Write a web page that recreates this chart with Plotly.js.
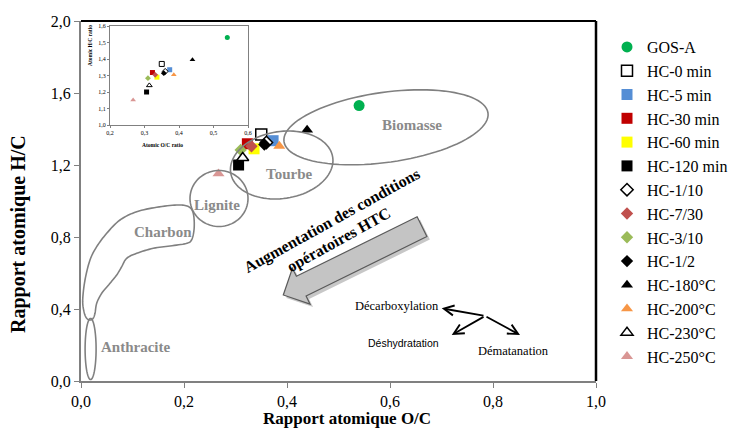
<!DOCTYPE html>
<html>
<head>
<meta charset="utf-8">
<script src="https://cdn.plot.ly/plotly-3.0.1.min.js"></script>
<style>html,body{margin:0;padding:0;background:#fff;}#chart{width:729px;height:437px;}</style>
</head>
<body>
<div id="chart"></div>
<script>
// ---- data ----
const seriesNames = ['GOS-A','HC-0 min','HC-5 min','HC-30 min','HC-60 min','HC-120 min','HC-1/10','HC-7/30','HC-3/10','HC-1/2','HC-180°C','HC-200°C','HC-230°C','HC-250°C'];
const ratioOC = [0.540, 0.350, 0.373, 0.323, 0.336, 0.306, 0.360, 0.331, 0.310, 0.356, 0.439, 0.385, 0.314, 0.267];
const ratioHC = [1.530, 1.370, 1.335, 1.318, 1.290, 1.200, 1.325, 1.304, 1.284, 1.314, 1.395, 1.305, 1.240, 1.152];
const xTickVals = [0, 0.2, 0.4, 0.6, 0.8, 1.0];
const yTickVals = [0, 0.4, 0.8, 1.2, 1.6, 2.0];
const insetXTicks = [0.2, 0.3, 0.4, 0.5, 0.6];
const insetYTicks = [1.0, 1.1, 1.2, 1.3, 1.4, 1.5, 1.6];
const regionLabels = ['Biomasse','Tourbe','Lignite','Charbon','Anthracite'];

// ---- styles ----
const markerSymbols = ['circle','square','square','square','square','square','diamond','diamond','diamond','diamond','triangle-up','triangle-up','triangle-up','triangle-up'];
const markerColors = ['#00B050','#FFFFFF','#558ED5','#C00000','#FFFF00','#000000','#FFFFFF','#C0504D','#9BBB59','#000000','#000000','#F79646','#FFFFFF','#D99694'];
const openMarker = [false,true,false,false,false,false,true,false,false,false,false,false,true,false];
const mainSizes = {circle:11, square:11, diamond:9.5, 'triangle-up':10.5};
const insetSizes = {circle:5, square:5, diamond:4.5, 'triangle-up':5};

// pixel -> data helpers for decorative drawings (plot area 81..596 x 21..381)
function X(px){return (px-81)/515;}
function Y(py){return (381-py)/360*2;}
function PY(py){return (381-py)/360;}
function polyPath(pts){
  return pts.map((p,i)=>(i?'L':'M')+X(p[0]).toFixed(5)+','+Y(p[1]).toFixed(5)).join(' ')+' Z';
}
function ellipsePts(cx,cy,a,b,deg){
  const th=deg*Math.PI/180, pts=[];
  for(let i=0;i<96;i++){const t=2*Math.PI*i/96;const ex=a*Math.cos(t),ey=b*Math.sin(t);
    pts.push([cx+ex*Math.cos(th)-ey*Math.sin(th), cy+ex*Math.sin(th)+ey*Math.cos(th)]);}
  return pts;
}
function closedSpline(ctrl){
  const n=ctrl.length, pts=[];
  for(let i=0;i<n;i++){
    const p0=ctrl[(i-1+n)%n],p1=ctrl[i],p2=ctrl[(i+1)%n],p3=ctrl[(i+2)%n];
    for(let s=0;s<8;s++){const t=s/8,t2=t*t,t3=t2*t;
      const f=(a,b,c,d)=>0.5*((2*b)+(-a+c)*t+(2*a-5*b+4*c-d)*t2+(-a+3*b-3*c+d)*t3);
      pts.push([f(p0[0],p1[0],p2[0],p3[0]),f(p0[1],p1[1],p2[1],p3[1])]);}
  }
  return pts;
}
const charbonCtrl = [[82.7,300],[85,280],[90,260],[96.7,246.7],[106.7,233.3],[120,220],[136.7,211.7],[156.7,207.3],[176.7,205],[187,206],[192,210],[194,218],[194,230],[191.5,240],[186,243.5],[170,246],[153.3,248.3],[136.7,253.3],[126.7,258.3],[121.7,266.7],[116.7,275],[110,283.3],[101.7,293.3],[96.7,303.3],[95,313.3],[93,318.5],[90,320],[86.5,318],[84,311.7]];

// big arrow geometry
function arrowPts(dx,dy){
  const tail=[422+dx,226.7+dy], tip=[283.3+dx,295+dy];
  const L=Math.hypot(tip[0]-tail[0],tip[1]-tail[1]);
  const u=[(tip[0]-tail[0])/L,(tip[1]-tail[1])/L], n=[u[1],-u[0]];
  const base=[tip[0]-u[0]*20, tip[1]-u[1]*20];
  const P=(o,k)=>[o[0]+n[0]*k,o[1]+n[1]*k];
  return [P(tail,11),P(base,11),P(base,20),tip,P(base,-20),P(base,-11),P(tail,-11)];
}

const grayLine = {color:'#808080', width:1.6};
const shapes = [
  {type:'path', xref:'x', yref:'y', path:polyPath(ellipsePts(386,127.3,103,35,-8)), line:grayLine},
  {type:'path', xref:'x', yref:'y', path:polyPath(ellipsePts(281.7,165,51.6,33.5,-8.6)), line:grayLine},
  {type:'path', xref:'x', yref:'y', path:polyPath(ellipsePts(219,198.5,29,28,0)), line:grayLine},
  {type:'path', xref:'x', yref:'y', path:polyPath(ellipsePts(90.6,349,5.5,30.5,0)), line:grayLine},
  {type:'path', xref:'x', yref:'y', path:polyPath(closedSpline(charbonCtrl)), line:grayLine},
  {type:'path', xref:'x', yref:'y', path:polyPath(arrowPts(3,3)), fillcolor:'rgba(0,0,0,0.22)', line:{width:0}},
  {type:'path', xref:'x', yref:'y', path:polyPath(arrowPts(0,0)), fillcolor:'#C4C4C4', line:{color:'#5A5A5A', width:1.2}},
  {type:'line', xref:'paper', yref:'paper', x0:0, y0:1, x1:1, y1:1, line:{color:'#000', width:2}},
  {type:'line', xref:'paper', yref:'paper', x0:1, y0:1, x1:1, y1:0, line:{color:'#000', width:2.5}}
];

const serif='"Liberation Serif", "Times New Roman", Times, serif';
const sans='"Liberation Sans", Arial, sans-serif';
const labelPos = [[412,125],[289,174],[217,205],[163.3,231.7],[135.3,346.7]];
const annotations = [];
function ann(o){annotations.push(Object.assign({xanchor:'center',yanchor:'middle',showarrow:false},o));}
regionLabels.forEach((t,i)=>ann({xref:'x',yref:'y',x:X(labelPos[i][0]),y:Y(labelPos[i][1]),text:'<b>'+t+'</b>',font:{family:serif,size:15,color:'#8A8A8A'}}));
ann({xref:'x',yref:'y',x:X(331.7),y:Y(221),text:'<b>Augmentation des conditions</b>',textangle:-29,font:{family:serif,size:16,color:'#000'}});
ann({xref:'x',yref:'y',x:X(339),y:Y(240),text:'<b>opératoires HTC</b>',textangle:-29,font:{family:serif,size:16,color:'#000'}});
ann({xref:'x',yref:'y',x:X(396.7),y:Y(305.7),text:'Décarboxylation',font:{family:serif,size:12.5,color:'#000'}});
ann({xref:'x',yref:'y',x:X(403.7),y:Y(343.3),text:'Déshydratation',font:{family:sans,size:10.5,color:'#000'}});
ann({xref:'x',yref:'y',x:X(513.8),y:Y(351),text:'Dématanation',font:{family:serif,size:12.5,color:'#000'}});
const junction=[485,316];
[[441.7,308.3],[451.7,335],[520,335]].forEach(h=>annotations.push({xref:'x',yref:'y',x:X(h[0]),y:Y(h[1]),ax:junction[0]-h[0],ay:junction[1]-h[1],text:'',showarrow:true,arrowhead:5,arrowsize:1.1,arrowwidth:1.8,arrowcolor:'#000',standoff:0,startstandoff:0}));
ann({xref:'paper',yref:'paper',x:X(346.7),y:PY(418),text:'<b>Rapport atomique O/C</b>',font:{family:serif,size:17,color:'#000'}});
ann({xref:'paper',yref:'paper',x:X(18),y:PY(234),text:'<b>Rapport atomique H/C</b>',textangle:-90,font:{family:serif,size:20,color:'#000'}});
ann({xref:'paper',yref:'paper',x:X(162),y:PY(145),text:'<b>Atomic O/C ratio</b>',font:{family:serif,size:5.5,color:'#000'}});
ann({xref:'paper',yref:'paper',x:X(90),y:PY(46),text:'<b>Atomic H/C ratio</b>',textangle:-90,font:{family:serif,size:5.5,color:'#000'}});

const traces = [];
seriesNames.forEach((nm,i)=>{
  const sym=markerSymbols[i];
  traces.push({type:'scatter',mode:'markers',name:nm,x:[ratioOC[i]],y:[ratioHC[i]],xaxis:'x',yaxis:'y',
    marker:{symbol:sym,size:mainSizes[sym],color:markerColors[i],line:{color:'#000',width:openMarker[i]?1.5:0}},hoverinfo:'name'});
});
seriesNames.forEach((nm,i)=>{
  const sym=markerSymbols[i];
  traces.push({type:'scatter',mode:'markers',name:nm,showlegend:false,x:[ratioOC[i]],y:[ratioHC[i]],xaxis:'x2',yaxis:'y2',
    marker:{symbol:sym,size:insetSizes[sym],color:markerColors[i],line:{color:'#000',width:openMarker[i]?1:0}},hoverinfo:'name'});
});

const layout = {
  width:729, height:437,
  margin:{l:81, r:133, t:21, b:56, autoexpand:false},
  paper_bgcolor:'#fff', plot_bgcolor:'#fff',
  separators:', ',
  showlegend:true,
  font:{family:serif},
  xaxis:{range:[0,1], tickvals:xTickVals, tickformat:'.1f', showgrid:false, zeroline:false, showline:true, linecolor:'#808080', linewidth:2, ticks:'outside', ticklen:5, tickcolor:'#808080', tickfont:{family:serif,size:16,color:'#000'}, fixedrange:true},
  yaxis:{range:[0,2], tickvals:yTickVals, tickformat:'.1f', showgrid:false, zeroline:false, showline:true, linecolor:'#808080', linewidth:2, ticks:'outside', ticklen:5, tickcolor:'#808080', tickfont:{family:serif,size:16,color:'#000'}, fixedrange:true},
  xaxis2:{domain:[X(110),X(248)], anchor:'y2', range:[0.2,0.6], tickvals:insetXTicks, tickformat:'.1f', showgrid:false, zeroline:false, showline:true, mirror:true, linecolor:'#808080', linewidth:1, ticks:'outside', ticklen:2, tickcolor:'#808080', tickfont:{family:serif,size:6,color:'#000'}},
  yaxis2:{domain:[PY(125),PY(26)], anchor:'x2', range:[1.0,1.6], tickvals:insetYTicks, tickformat:'.1f', showgrid:false, zeroline:false, showline:true, mirror:true, linecolor:'#808080', linewidth:1, ticks:'outside', ticklen:2, tickcolor:'#808080', tickfont:{family:serif,size:6,color:'#000'}},
  legend:{x:X(607), y:PY(30), xanchor:'left', yanchor:'top', font:{family:serif,size:16,color:'#000'}, bgcolor:'rgba(0,0,0,0)', tracegroupgap:0},
  shapes:shapes,
  annotations:annotations
};
Plotly.newPlot('chart', traces, layout, {displayModeBar:false, staticPlot:true});
</script>
</body>
</html>
